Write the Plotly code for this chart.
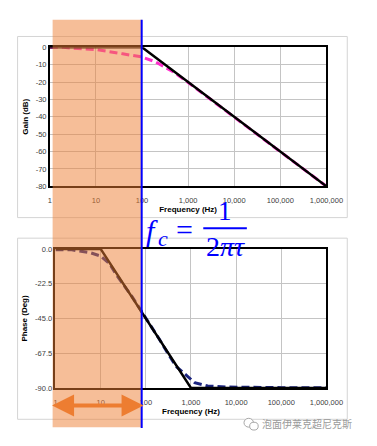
import plotly.graph_objects as go

# ---------------- data ----------------
x_tick_vals = [1, 10, 100, 1000, 10000, 100000, 1000000]
x_tick_text = ["1", "10", "100", "1,000", "10,000", "100,000", "1,000,000"]

gain_tick_vals = [0, -10, -20, -30, -40, -50, -60, -70, -80]
gain_tick_text = ["0", "-10", "-20", "-30", "-40", "-50", "-60", "-70", "-80"]

phase_tick_vals = [0, -22.5, -45, -67.5, -90]
phase_tick_text = ["0.0", "-22.5", "-45.0", "-67.5", "-90.0"]

freq_gain_asym = [1, 100, 1000000]
gain_asym = [0, 0, -80]

freq_gain_meas = [1, 2, 3, 10, 38, 100, 200, 500, 1000, 10000, 100000, 1000000]
gain_meas = [0, 0, -0.5, -1.3, -3.8, -5.6, -8.5, -14.5, -20.3, -40.1, -60.1, -80]

freq_phase_asym = [1, 10, 1000, 1000000]
phase_asym = [0, 0, -90, -90]

freq_phase_meas = [1, 2.3, 6, 10, 15.7, 22, 50, 100, 200, 300, 468, 760, 1210,
                   2350, 6200, 100000, 1000000]
phase_meas = [-0.6, -0.6, -2.5, -4.6, -9.5, -16.5, -31, -44.5, -58.5, -67, -76,
              -81.3, -86.6, -88.7, -89.4, -89.8, -89.8]

# page body has an 8px margin on every side: figure sits at (8, 8) and is
# sized so that figure + margins exactly fill the 377x446 window
OFF = 8
W, H = 377 - 2 * OFF, 446 - 2 * OFF


def px(x):
    return (x - OFF) / W


def py(y):
    return 1 - (y - OFF) / H


fig = go.Figure()

fig.add_trace(go.Scatter(x=freq_gain_meas, y=gain_meas, mode="lines",
                         line=dict(color="#FF2ECC", width=3, dash="8px,4px"),
                         xaxis="x", yaxis="y", showlegend=False))
fig.add_trace(go.Scatter(x=freq_gain_asym, y=gain_asym, mode="lines",
                         line=dict(color="black", width=2.5),
                         xaxis="x", yaxis="y", showlegend=False))
fig.add_trace(go.Scatter(x=freq_phase_meas, y=phase_meas, mode="lines",
                         line=dict(color="#1C2580", width=3, dash="8px,4px"),
                         xaxis="x2", yaxis="y2", showlegend=False))
fig.add_trace(go.Scatter(x=freq_phase_asym, y=phase_asym, mode="lines",
                         line=dict(color="black", width=2.5),
                         xaxis="x2", yaxis="y2", showlegend=False))

tick_font = dict(family="Liberation Sans, Arial", size=7.5, color="#404040")
title_font = dict(family="Liberation Sans, Arial", size=8, color="black")

xcommon = dict(type="log", range=[0, 6], tickvals=x_tick_vals, ticktext=x_tick_text,
               showgrid=True, gridcolor="#C4C4C4", gridwidth=1, zeroline=False,
               showline=True, linecolor="black", linewidth=1.5, mirror=True,
               ticks="", tickfont=tick_font, fixedrange=True, ticklabelstandoff=6)
ycommon = dict(showgrid=True, gridcolor="#C4C4C4", gridwidth=1, zeroline=False,
               showline=True, linecolor="black", linewidth=1.5, mirror=True,
               ticks="", tickfont=tick_font, fixedrange=True)

fig.update_layout(
    width=W, height=H,
    margin=dict(l=0, r=0, t=0, b=0),
    paper_bgcolor="white", plot_bgcolor="white",
    showlegend=False,
    xaxis=dict(xcommon, domain=[px(50), px(342)], anchor="y",
               title=dict(text="<b>Frequency (Hz)</b>", font=title_font, standoff=2)),
    yaxis=dict(ycommon, domain=[py(186), py(44)], anchor="x", range=[-80, 0],
               tickvals=gain_tick_vals, ticktext=gain_tick_text,
               title=dict(text="<b>Gain (dB)</b>", font=title_font, standoff=6)),
    xaxis2=dict(xcommon, domain=[px(56), px(342)], anchor="y2",
                title=dict(text="<b>Frequency (Hz)</b>", font=title_font, standoff=2)),
    yaxis2=dict(ycommon, domain=[py(392), py(250)], anchor="x2", range=[-90, 0],
                tickvals=phase_tick_vals, ticktext=phase_tick_text,
                title=dict(text="<b>Phase (Deg)</b>", font=title_font, standoff=6)),
)

shapes = [
    # outer chart boxes
    dict(type="rect", xref="paper", yref="paper", x0=px(16), x1=px(364), y0=py(218), y1=py(33),
         line=dict(color="#D4D4D4", width=1), fillcolor="rgba(0,0,0,0)", layer="below"),
    dict(type="rect", xref="paper", yref="paper", x0=px(16), x1=px(364), y0=py(424), y1=py(239),
         line=dict(color="#D4D4D4", width=1), fillcolor="rgba(0,0,0,0)", layer="below"),
    # orange overlay band
    dict(type="rect", xref="paper", yref="paper", x0=px(53), x1=px(147), y0=py(432), y1=py(16),
         line=dict(width=0), fillcolor="#ED7D31", opacity=0.5, layer="above"),
    # blue cutoff line
    dict(type="line", xref="paper", yref="paper", x0=px(147), x1=px(147), y0=py(433), y1=py(16),
         line=dict(color="#0000FF", width=2), layer="above"),
    # fraction bar
    dict(type="line", xref="paper", yref="paper", x0=px(212), x1=px(258), y0=py(229), y1=py(229),
         line=dict(color="#0000FF", width=2), layer="above"),
    # wechat icon bubbles
    dict(type="circle", xref="paper", yref="paper", x0=px(255), x1=px(265), y0=py(432), y1=py(423),
         line=dict(color="#A8A8A8", width=1), fillcolor="white", layer="above"),
    dict(type="circle", xref="paper", yref="paper", x0=px(261), x1=px(270), y0=py(435), y1=py(427),
         line=dict(color="#A8A8A8", width=1), fillcolor="white", layer="above"),
]
fig.update_layout(shapes=shapes)

serif = "Liberation Serif, Times New Roman, serif"
blue = "#0000FF"
annotations = [
    dict(text="<i>f</i>", x=px(158), y=py(231), font=dict(family=serif, size=30, color=blue)),
    dict(text="<i>c</i>", x=px(170), y=py(239), font=dict(family=serif, size=22, color=blue)),
    dict(text="=", x=px(192), y=py(230), font=dict(family=serif, size=30, color=blue)),
    dict(text="1", x=px(235), y=py(211), font=dict(family=serif, size=27, color=blue)),
    dict(text="2<i>πτ</i>", x=px(235), y=py(248), font=dict(family=serif, size=28, color=blue)),
    dict(text="泡面伊莱克超尼克斯", x=px(321), y=py(428),
         font=dict(family="Noto Sans CJK SC", size=10, color="#9A9A9A")),
]
for a in annotations:
    a.update(xref="paper", yref="paper", showarrow=False, xanchor="center", yanchor="middle",
             borderpad=0)

# double-headed orange arrow
annotations.append(dict(
    xref="paper", yref="paper", x=px(149), y=py(410), ax=-93, ay=0,
    axref="pixel", ayref="pixel", text="", showarrow=True,
    arrowhead=2, arrowside="end+start", arrowsize=1.1, arrowwidth=4,
    arrowcolor="#ED7D31", startarrowhead=2, startarrowsize=1.1,
))
fig.update_layout(annotations=annotations)

fig.write_html("out.html")
